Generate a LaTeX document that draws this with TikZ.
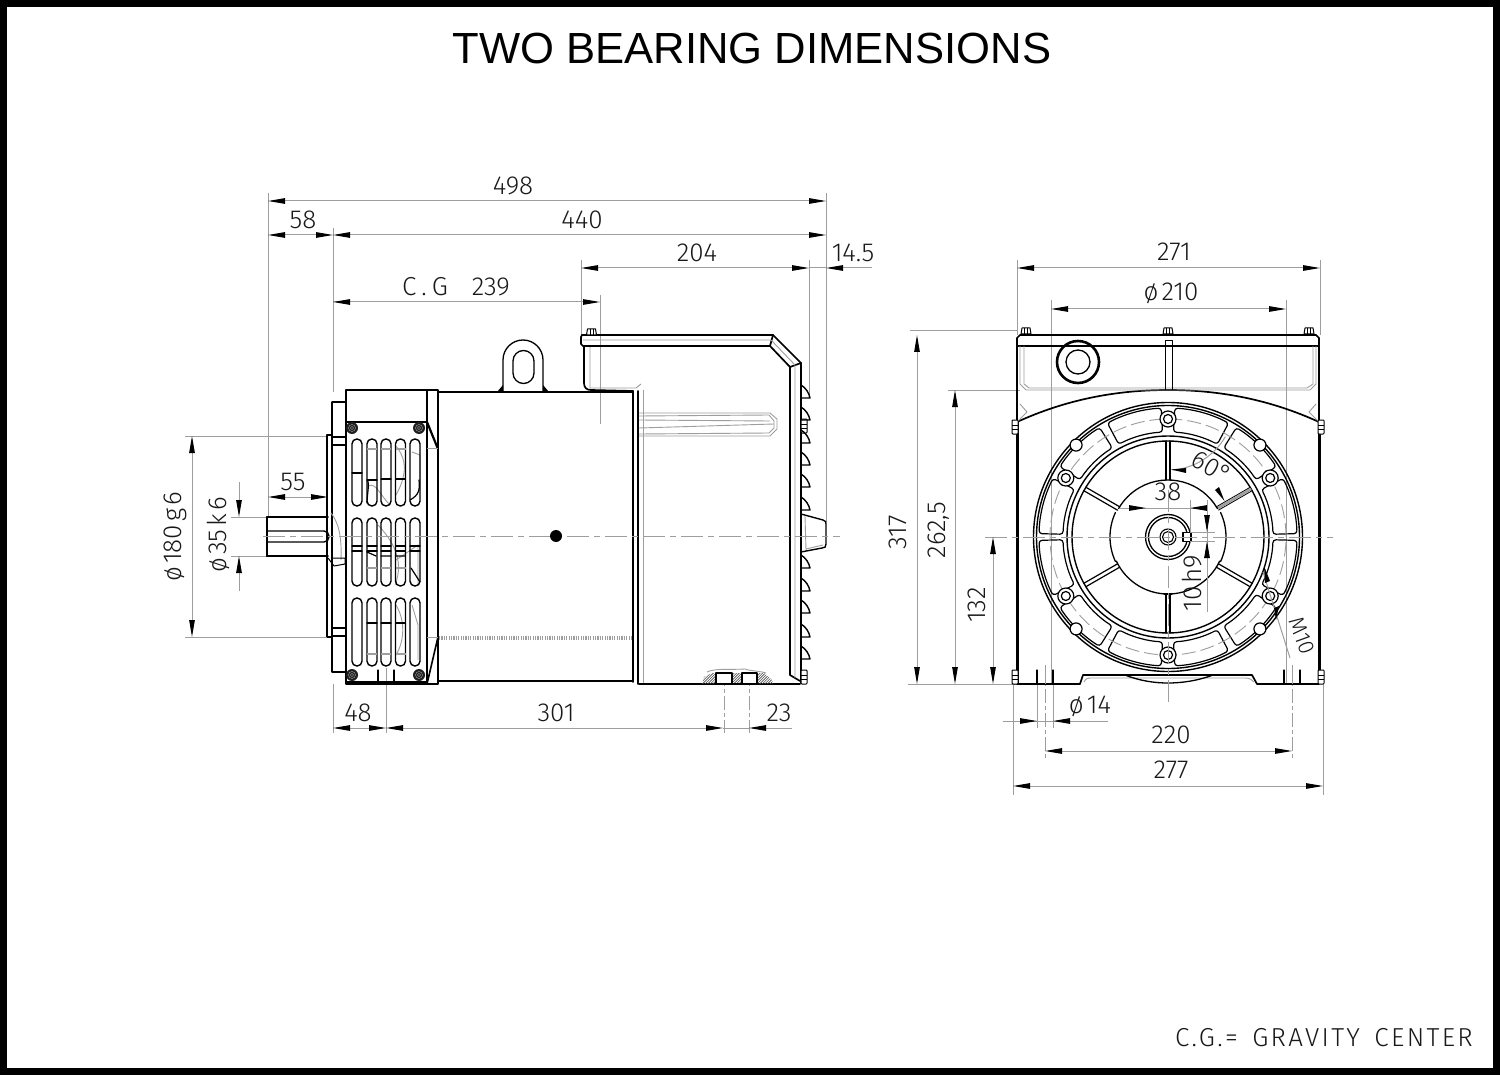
\documentclass[tikz,border=0pt]{standalone}
\usepackage{fontspec}
\setmainfont{Liberation Sans}
\newfontfamily\din{Fira Sans Light}
\newfontfamily\dinwide[LetterSpace=9,WordSpace=1.5]{Fira Sans Light}
\usetikzlibrary{arrows.meta}
\definecolor{lgray}{gray}{0.62}
\tikzset{
 ol/.style={draw=black,line width=1.7pt,line join=round,line cap=round},
 olt/.style={draw=black,line width=1pt,line join=round},
 olh/.style={draw=black,line width=3pt},
 gl/.style={draw=lgray,line width=.9pt},
 dimln/.style={draw=lgray,line width=1pt},
 cl/.style={draw=lgray,line width=.9pt,dash pattern=on 22pt off 5pt on 6pt off 5pt},
 tip/.tip={Triangle[length=17pt,width=5.5pt,color=black,fill=black]},
 lbl/.style={font=\din\fontsize{26}{26}\selectfont,inner sep=0pt,text=black!90},
}
\newcommand\dimH[3]{\draw[dimln,tip-tip] (#1,#3) -- (#2,#3);}
\newcommand\dimV[3]{\draw[dimln,tip-tip] (#3,#1) -- (#3,#2);}
\newcommand\outA[4]{\draw[dimln,-tip] (#1,#2) -- (#3,#4);}
\newcommand\ex[4]{\draw[gl] (#1,#2) -- (#3,#4);}
\newcommand\lab[5][0]{\node[lbl,rotate=#1] (#2) at (#3,#4) {#5};}
\newcommand\slot[3]{\draw[ol,line width=1.4pt,rounded corners=4.8pt] (#1-5,#2) rectangle (#1+5,#3);}
\newcommand\fin[1]{\draw[ol,line width=1.4pt] (801,#1-13) .. controls (806,#1-10) and (809,#1-5) .. (810,#1) -- (801,#1);}
\newcommand\pk[2]{\draw[olt,line width=1.2pt,rounded corners=3pt] (#1:105pt) arc[start angle=#1,end angle=#2,radius=105pt] -- (#2:129pt) arc[start angle=#2,end angle=#1,radius=129pt] -- cycle;}
\newcommand\bolt[2]{\draw[olt,fill=white] (#1-5,#2+3) -- (#1-4,#2-3) -- (#1+4,#2-3) -- (#1+5,#2+3) -- cycle; \draw[olt] (#1-1.5,#2-3) -- (#1-1.5,#2+3) (#1+1.5,#2-3) -- (#1+1.5,#2+3);}
\newcommand\sbolt[2]{\draw[olt,fill=white,rounded corners=.8pt] (#1-3,#2-7) rectangle (#1+3,#2+7); \draw[olt] (#1-3,#2-2) -- (#1+3,#2-2) (#1-3,#2+2) -- (#1+3,#2+2);}
\begin{document}
\begin{tikzpicture}[x=1pt,y=-1pt]
\useasboundingbox (0,0) rectangle (1500,1075);
\fill[white] (0,0) rectangle (1500,1075);
\draw[black,line width=7pt] (3.5,3.5) rectangle (1496.5,1071.5);
\node[inner sep=0pt,font=\fontsize{43.6}{44}\selectfont] (title) at (752,48) {TWO BEARING DIMENSIONS};
\node[inner sep=0pt,anchor=east,font=\dinwide\fontsize{26}{26}\selectfont,text=black!90] (note) at (1473,1038) {C.G.= GRAVITY CENTER};

% ---- extension lines, side view
\ex{268}{193}{268}{517}
\ex{333}{228}{333}{392}
\ex{333}{684}{333}{733}
\ex{826}{193}{826}{522}
\ex{581}{260}{581}{335}
\ex{600}{295}{600}{424}
\ex{809}{260}{809}{398}
\ex{386}{668}{386}{733}
\draw[gl,dash pattern=on 14pt off 3pt on 4pt off 3pt] (724,672) -- (724,733);
\draw[gl,dash pattern=on 14pt off 3pt on 4pt off 3pt] (749,672) -- (749,733);
\ex{185}{436}{326}{436}
\ex{185}{637}{326}{637}
\ex{231}{517}{268}{517}
\ex{231}{556}{268}{556}
\draw[gl] (328,490) -- (328,517);

% ---- side view body
\draw[ol] (346,390) rectangle (427,684);
\draw[ol] (427,390) rectangle (438,684);
\draw[ol] (346,422) -- (427,422);
\draw[ol] (332,402) -- (346,402) (332,672) -- (346,672) (332,402) -- (332,672);
\draw[ol,fill=white] (327,435) rectangle (332,637);
\draw[ol,line width=1.2pt] (332,437) -- (346,437) (332,445) -- (346,445) (332,628) -- (346,628) (332,636) -- (346,636);
\draw[ol,line width=2.2pt] (427,422) -- (438,449);
\draw[ol,line width=1.6pt] (438,637) -- (427,684);
\draw[gl] (427,448) -- (438,448) (427,637) -- (438,637);
\draw[ol] (346,682) -- (427,682);
\draw[ol] (438,392) -- (633,392) (438,681) -- (633,681);
\draw[ol] (633,391) -- (633,682) (638,391) -- (638,684);
\draw[gl] (643,390) -- (643,684);
\draw[draw=lgray,line width=3.5pt,dash pattern=on 1.2pt off 1.2pt] (439,638) -- (633,638);
\foreach \p in {(352,428),(419,428),(352,675),(419,675)} {\fill[black!88] \p circle (6pt); \draw[white!65!black,line width=.4pt] \p circle (3.5pt) \p circle (1.6pt);}
% fan behind slots
\draw[gl] (395,445) .. controls (404,455) and (410,470) .. (396,495);
\draw[gl] (412,452) -- (420,455) -- (420,490);
\draw[gl] (368,486) .. controls (376,482) and (380,495) .. (390,505);
\draw[gl] (378,525) .. controls (392,540) and (405,560) .. (395,585);
\draw[gl] (396,560) -- (418,545) -- (418,585);
\draw[gl] (396,605) .. controls (405,620) and (405,640) .. (396,655);
\draw[gl] (412,605) -- (418,625) -- (418,660);
\foreach \x in {357,372,386,400.5,415}{\slot{\x}{439}{506}\slot{\x}{518}{586}\slot{\x}{598}{666}}
% slot details
\draw[ol,line width=1.2pt] (352,473) -- (362,473) (367,480) -- (377,480) (381,479) -- (391,479) (395.5,479) -- (405.5,479);
\draw[gl,line width=1.8pt] (367,449) -- (377,449) (381,449) -- (391,449) (395.5,449) -- (405.5,449);
\draw[ol,line width=1.2pt] (367,480) .. controls (370,482) and (367,495) .. (367,503) (410,500) .. controls (419,495) and (420,490) .. (419,480);
\foreach \y in {546,551}{\draw[ol,line width=1.2pt] (352,\y) -- (362,\y) (367,\y) -- (377,\y) (381,\y) -- (391,\y) (395.5,\y) -- (405.5,\y) (410,\y) -- (420,\y);}
\draw[gl,line width=1.8pt] (367,568) -- (377,568) (381,568) -- (391,568) (395.5,568) -- (405.5,568);
\draw[ol,line width=1.2pt] (367,552) -- (376,556) (381,556) -- (391,556) (395.5,556) -- (405.5,556) (411,568) -- (420,582);
\draw[ol,line width=1.2pt] (367,623) -- (377,623) (381,623) -- (391,623) (395.5,623) -- (405.5,623);
\draw[gl,line width=1.8pt] (367,654) -- (377,654) (381,654) -- (391,654) (395.5,654) -- (405.5,654);
\draw[ol,line width=1.2pt] (378,670) -- (378,684) (394,670) -- (394,684);
% shaft
\draw[ol,line width=1.7pt] (328,517) -- (267,517) (267,556) -- (328,556);
\draw[ol,line width=2.4pt] (267,517) -- (267,556);
\draw[ol,line width=1.4pt,rounded corners=5pt] (267,531) -- (329,531) -- (329,542) -- (267,542);
\draw[gl] (331,513) .. controls (338,522) and (342,535) .. (341,560);
\draw[olt] (333,558) -- (345,558) -- (345,564) -- (334,566) -- (328,558);
% lifting eye
\draw[ol,line width=1.3pt] (503,392) -- (503,360) arc[start angle=180,end angle=360,x radius=20pt,y radius=-20pt] -- (543,392);
\draw[ol,line width=1.3pt] (513,361) arc[start angle=180,end angle=360,x radius=10.5pt,y radius=-10.5pt] -- (534,373) arc[start angle=0,end angle=180,x radius=10.5pt,y radius=-10.5pt] -- cycle;
\fill (497,392) -- (503,385) -- (503,392) -- cycle (549,392) -- (543,385) -- (543,392) -- cycle;
% terminal box
\draw[ol] (584,346) -- (584,383) .. controls (584,388) and (587,390) .. (591,390) -- (633,391);
\draw[gl] (590,346) -- (590,388) -- (636,388) -- (641,384);
\draw[ol] (582,335) -- (773,335) -- (801,363) -- (801,683);
\draw[ol] (582,335) -- (581,337) -- (581,344) -- (583,346) -- (770,346) -- (790,367) -- (790,675) -- (800,681);
\draw[ol] (770,346) -- (773,335) (790,367) -- (801,363);
\draw[gl] (583,340) -- (771,340) (771,340) -- (795,365) (795,365) -- (795,678);
\draw[ol] (639,684) -- (800,684);
\bolt{591.5}{332}
\sbolt{804}{426}
\sbolt{804}{677}
% rib
\draw[gl] (639,413) -- (770,413) -- (777,419) -- (777,429) -- (770,436) -- (639,436);
\draw[gl] (639,416) -- (769,415) -- (774,421) -- (774,428) -- (769,433) -- (639,434);
\draw[gl] (639,420) -- (770,421) (639,428) -- (774,424) ;
\foreach \y in {398,420,443,465,487,510,568,591,613,637,659}{\fin{\y}}
\draw[ol,line width=1.4pt] (801,514) -- (823,520) .. controls (826,521) and (826,522) .. (826,524) -- (826,544) .. controls (826,547) and (825,548) .. (822,548) -- (801,552);
\draw[gl] (805,516) -- (806,550) (806,549) -- (823,545);
% foot section
\begin{scope}
\clip (702,684) -- (704,677) -- (712,673) -- (764,673) -- (772,680) -- (773,684) -- cycle;
\foreach \k in {0,2.6,...,90}{\draw[black!70,line width=.6pt] (690+\k,686) -- (704+\k,672);}
\end{scope}
\draw[ol,fill=white] (716,673) rectangle (732,684);
\draw[ol,fill=white] (742,673) rectangle (757,684);
\draw[gl] (707,672) .. controls (715,668) and (730,670) .. (745,669) .. controls (750,671) and (760,671) .. (766,673);
\draw[ol] (716,684) -- (757,684);

% centre lines
\draw[cl] (263,536) -- (840,536);
\fill[black] (556,536) circle (6pt);

% dims side view
\dimH{268}{826}{201}
\dimH{333}{826}{235}
\dimH{268}{333}{235}
\dimH{581}{809}{268}
\outA{872}{268}{826}{268}
\draw[dimln] (826,268) -- (809,268);
\draw[dimln,-tip] (333,302) -- (600,302);
\draw[dimln,tip-] (333,302) -- (350,302);
\dimH{268}{328}{497}
\outA{239}{482}{239}{517}
\outA{239}{591}{239}{556}
\dimV{436}{637}{192}
\dimH{333}{386}{728}
\dimH{386}{723}{728}
\outA{792}{728}{749}{728}
\draw[dimln] (723,728) -- (749,728);
\lab{d498}{513}{186}{498}
\lab{d440}{582}{220}{440}
\lab{d58}{303}{220}{58}
\lab{d204}{697}{253}{204}
\lab{d145}{853}{253}{14.5}
\lab{dcg}{456}{287}{C\hspace{5pt}.\hspace{5pt}G\hspace{24pt}239}
\lab{d55}{293}{482}{55}
\lab[90]{d35}{218}{535}{ø\hspace{3pt}35\hspace{3pt}k\hspace{3pt}6}
\lab[90]{d180}{175}{537}{ø\hspace{3pt}180\hspace{3pt}g\hspace{3pt}6}
\lab{d48}{358}{713}{48}
\lab{d301}{556}{713}{301}
\lab{d23}{779}{713}{23}

% ---- front view extension lines
\ex{1017}{260}{1017}{335}
\ex{1320}{260}{1320}{335}
\ex{1051}{300}{1051}{684}
\ex{1286}{300}{1286}{684}
\ex{910}{330}{1017}{330}
\ex{908}{684}{1017}{684}
\ex{948}{390}{1020}{390}
\ex{1013}{684}{1013}{795}
\ex{1323}{684}{1323}{795}
\draw[gl,dash pattern=on 14pt off 3pt on 4pt off 3pt] (1045,665) -- (1045,758);
\draw[gl,dash pattern=on 14pt off 3pt on 4pt off 3pt] (1292,665) -- (1292,758);
\ex{1037}{684}{1037}{728}
\ex{1053}{684}{1053}{728}
% front view body
\draw[ol] (1017,422) -- (1017,338) -- (1020,335) -- (1316,335) -- (1319,338) -- (1319,422);
\draw[ol] (1018,346) -- (1318,346);
\draw[olh] (1017,420) -- (1017,684) (1319,420) -- (1319,684);
\draw[ol] (1017,684) -- (1080,684) -- (1083,675) -- (1252,675) -- (1257,684) -- (1319,684);
\draw[ol] (1017,422) .. controls (1065,400) and (1115,390) .. (1168,390) .. controls (1221,390) and (1271,400) .. (1319,422);
\draw[gl] (1084,682) .. controls (1086,678) and (1088,678) .. (1092,678) -- (1245,678) .. controls (1250,678) and (1252,680) .. (1254,682);
\draw[ol,line width=1.3pt] (1125,675) .. controls (1140,681) and (1155,683) .. (1168,683) .. controls (1181,683) and (1197,681) .. (1213,675);
\draw[gl] (1020,346) -- (1020,384) -- (1026,390) -- (1310,390) -- (1316,384) -- (1316,346);
\draw[gl] (1024,346) -- (1024,384) -- (1029,388) -- (1307,388) -- (1313,384) -- (1313,346);
\draw[gl] (1017,422) -- (1027,412) -- (1020,404) (1319,422) -- (1309,412) -- (1316,404);
\draw[olt] (1165,390) -- (1165,341) -- (1172,341) -- (1172,390);
\draw[ol,line width=2.6pt] (1078,362) circle (21pt);
\draw[olt,line width=1.3pt] (1078,362) circle (12pt);
\bolt{1026}{331}
\bolt{1168}{331}
\bolt{1309}{331}
\sbolt{1015}{427}
\sbolt{1321}{427}
\sbolt{1015}{677}
\sbolt{1321}{677}
\draw[ol,line width=1.2pt] (1037,670) -- (1037,684) (1053,670) -- (1053,684) (1284,670) -- (1284,684) (1300,670) -- (1300,684);
\draw[gl] (1045,670) -- (1045,684) (1292,670) -- (1292,684);

% end shield, centred on the shaft
\begin{scope}[shift={(1168,537)},x=1pt,y=1pt]
\draw[ol,line width=1.4pt] (0,0) circle (134.5pt) (0,0) circle (131.5pt);
\draw[ol,line width=1.4pt] (0,0) circle (101pt) (0,0) circle (96pt);
\foreach \a/\b in {1.5/27,33/58,62/87,93/118,122/147,153/178.5,181.5/207,213/238,242/267,273/298,302/327,333/358.5}{\pk{\a}{\b}}
\draw[gl,dash pattern=on 14pt off 5pt] (0,0) circle (118pt);
\foreach \a in {30,90,150,210,270,330}{
 \draw[olt,line width=1.2pt,fill=white] (\a:118pt) circle (8pt);
 \draw[olt,line width=1.2pt] (\a:118pt) circle (4.5pt);}
\foreach \a in {45,135,225,315}{
 \draw[olt,line width=1.2pt,fill=white] (\a:130pt) circle (6pt);}
\foreach \a in {90,270,150,210,330}{
 \begin{scope}[rotate=\a]
 \draw[ol,line width=1.2pt] (57,-2) -- (96,-2) (57,2) -- (96,2);
 \end{scope}}
\begin{scope}[rotate=30]
 \draw[draw=lgray,line width=2.4pt] (57,0) -- (96,0);
 \draw[olt,line width=.8pt] (57,-2) -- (96,-2) (57,2) -- (96,2);
\end{scope}
\draw[ol,line width=1.3pt] (30:57pt) arc[start angle=30,end angle=150,radius=57pt];
\draw[ol,line width=1.3pt] (25:58pt) arc[start angle=25,end angle=-25,radius=58pt];
\draw[ol,line width=1.3pt] (155:58pt) arc[start angle=155,end angle=205,radius=58pt];
\draw[ol,line width=1.3pt] (-155:57pt) arc[start angle=-155,end angle=-94,radius=57pt];
\draw[ol,line width=1.3pt] (-86:57pt) arc[start angle=-86,end angle=-25,radius=57pt];
\draw[ol,line width=1.3pt] (-4,-57) -- (4,-57);
\draw[ol,line width=1.3pt] (0,0) circle (22.5pt);
\draw[ol,line width=1.3pt] (0,0) circle (19.5pt);
\draw[ol,line width=1.1pt] (0,0) circle (8pt) (0,0) circle (5.5pt);
\draw[ol,line width=1.2pt,fill=white] (15,-4.5) rectangle (23,4.5);
\end{scope}
% centre lines front
\draw[cl] (985,537) -- (1333,537);
\draw[cl] (1168,490) -- (1168,702);
% inner dims
\draw[dimln] (1120,508) -- (1208,508);
\draw[dimln,-tip] (1132,508) -- (1146,508);
\draw[dimln,-tip] (1208,508) -- (1190,508);
\ex{1190}{500}{1190}{532}
\draw[dimln] (1207,500) -- (1207,612);
\draw[dimln,-tip] (1207,514) -- (1207,532);
\draw[dimln,-tip] (1207,559) -- (1207,541);
\ex{1190}{532}{1215}{532}
\ex{1190}{541}{1215}{541}
\draw[dimln] (1172,470) arc[start angle=86,end angle=30,x radius=67pt,y radius=-67pt];
\fill (1171,469.5) -- (1186,468) -- (1186,473) -- cycle;
\fill (1224.5,501) -- (1215,490) -- (1219,487) -- cycle;
% M10
\draw[dimln] (1263,572) -- (1290,658);
\fill (1264,566) -- (1270,581) -- (1265,583) -- cycle;
\fill (1276,620) -- (1279,606) -- (1274,608) -- cycle;
% outer dims
\dimH{1017}{1320}{268}
\dimH{1051}{1286}{309}
\dimV{335}{684}{917}
\dimV{390}{684}{955}
\dimV{537}{684}{993}
\dimH{1013}{1323}{786}
\dimH{1045}{1292}{751}
\draw[dimln] (1003,721) -- (1108,721);
\draw[dimln,-tip] (1020,721) -- (1037,721);
\draw[dimln,-tip] (1070,721) -- (1053,721);
\lab{e271}{1174}{252}{271}
\lab{e210}{1171}{293}{ø\hspace{3pt}210}
\lab[90]{e317}{898}{532}{317}
\lab[90]{e262}{939}{530}{262,5}
\lab[90]{e132}{977}{605}{132}
\lab{e38}{1168}{492}{38}
\lab[-30]{e60}{1212}{467}{60°}
\lab[90]{e10}{1192}{583}{10\hspace{3pt}h9}
\lab[-70]{e10m}{1302}{636}{\fontsize{22}{22}\selectfont M10}
\lab{e14}{1090}{706}{ø\hspace{3pt}14}
\lab{e220}{1171}{735}{220}
\lab{e277}{1171}{770}{277}
\end{tikzpicture}
\end{document}
